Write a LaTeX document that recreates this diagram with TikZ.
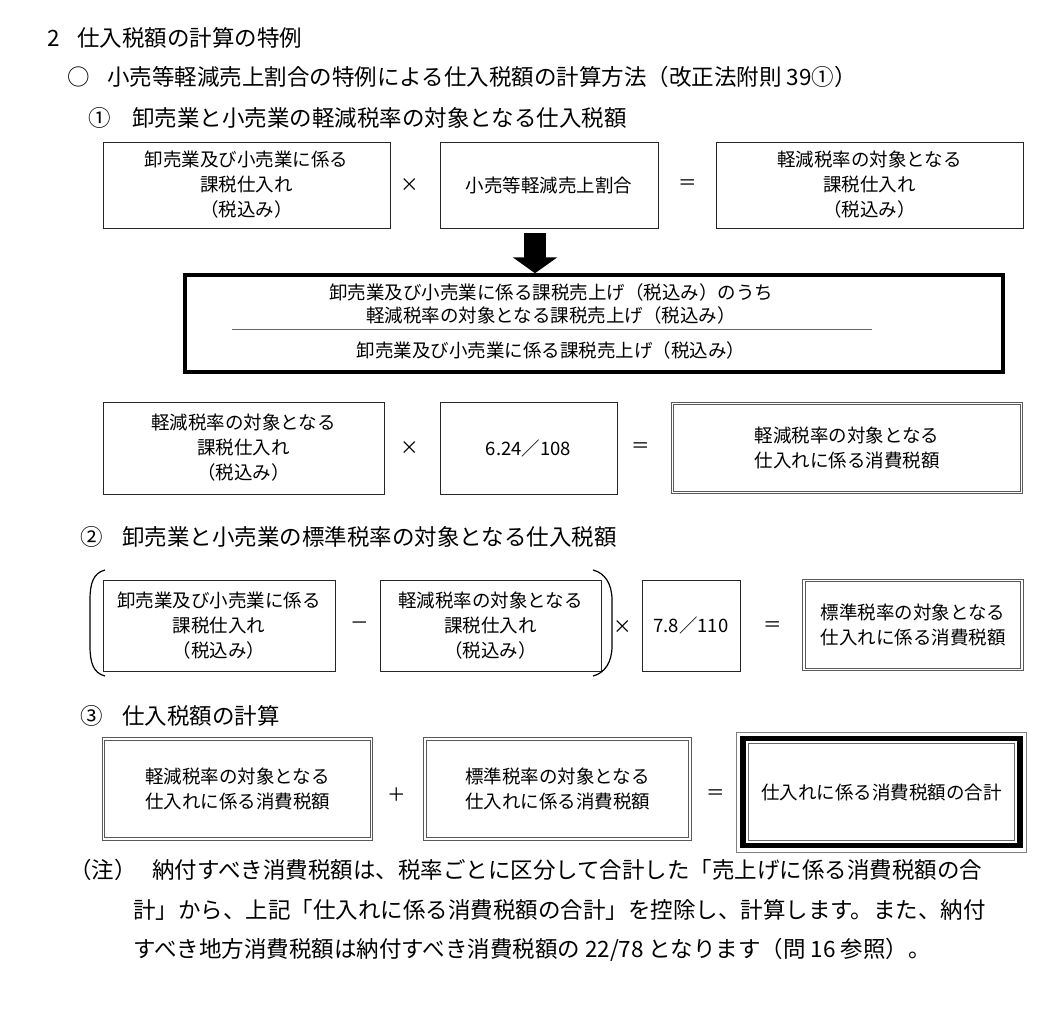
\documentclass[tikz,border=0pt]{standalone}
\usepackage{fontspec}
\setmainfont{Noto Sans CJK JP}
\usetikzlibrary{arrows.meta}
\XeTeXlinebreaklocale "ja"
\XeTeXlinebreakskip=0pt plus 3pt
\newcommand{\hdfont}{\fontsize{22.5}{26}\selectfont}
\newcommand{\bxfont}{\fontsize{18.5}{25}\selectfont}
\newcommand{\frfont}{\fontsize{18.5}{23}\selectfont}

\begin{document}
\begin{tikzpicture}[x=1pt,y=-1pt]
% Estilos
\tikzset{
  head/.style={anchor=west, inner sep=0pt, font=\hdfont},
  box/.style={rectangle, draw=black!85, line width=0.9pt, align=center, inner sep=0pt, font=\bxfont},
  dbox/.style={box, draw=black!65, double=white, double distance=1.4pt, line width=1pt},
  tbox/.style={box, draw=black, line width=5.5pt},
  fracbox/.style={rectangle, draw=black, line width=3.5pt, inner sep=0pt},
  op/.style={inner sep=0pt, font=\bxfont},
  bigarrow/.style={line width=22pt, -{Triangle[width=44pt,length=16pt]}}
}
\useasboundingbox (0,0) rectangle (1043,1023);

% Titulos
\node[head] (sec_num) at (47,38) {2};
\node[head] (sec_title) at (77,38) {仕入税額の計算の特例};
\node[head] (method_mark) at (67,77) {○};
\node[head] (method_title) at (107,77) {小売等軽減売上割合の特例による仕入税額の計算方法（改正法附則 39①）};
\node[head] (step1_mark) at (88,118) {①};
\node[head] (step1_title) at (132,118) {卸売業と小売業の軽減税率の対象となる仕入税額};

% Linha 1
\node[box, minimum width=287pt, minimum height=86pt] (whole_box) at (246.5,185) {卸売業及び小売業に係る\\課税仕入れ\\（税込み）};
\node[op] (times1) at (410,185) {×};
\node[box, minimum width=218pt, minimum height=86pt] (ratio_box) at (549,185) {小売等軽減売上割合};
\node[op] (eq1) at (688,185) {＝};
\node[box, minimum width=307pt, minimum height=86pt] (reduced_box) at (869.5,185) {軽減税率の対象となる\\課税仕入れ\\（税込み）};

% Fracao
\node[fracbox, minimum width=818pt, minimum height=97pt] (frac_box) at (594,323.5) {};
\node[op, align=center, font=\frfont] (frac_num) at (551,304) {卸売業及び小売業に係る課税売上げ（税込み）のうち\\軽減税率の対象となる課税売上げ（税込み）};
\node[op, font=\frfont] (frac_den) at (551,350) {卸売業及び小売業に係る課税売上げ（税込み）};
\draw[black!60, line width=0.8pt] (232,329) -- (872,329);
\draw[bigarrow, shorten <=5pt] ([xshift=-14pt]ratio_box.south) -- ([xshift=-14pt]ratio_box.south |- frac_box.north);

% Linha 2
\node[box, minimum width=281pt, minimum height=92pt] (reduced2_box) at (243.5,448) {軽減税率の対象となる\\課税仕入れ\\（税込み）};
\node[op] (times2) at (410,448) {×};
\node[box, minimum width=177pt, minimum height=92pt] (rate1_box) at (528.5,448) {6.24／108};
\node[op] (eq2) at (641,448) {＝};
\node[dbox, minimum width=349pt, minimum height=89pt] (tax1_box) at (847,448) {軽減税率の対象となる\\仕入れに係る消費税額};

% Titulo 2
\node[head] (step2_mark) at (80,537) {②};
\node[head] (step2_title) at (122,537) {卸売業と小売業の標準税率の対象となる仕入税額};

% Linha 3
\draw[line width=1.2pt] (105,570) .. controls (93,573) and (90,584) .. (90,600) -- (90,646) .. controls (90,662) and (93,673) .. (105,676);
\node[box, minimum width=232pt, minimum height=91pt] (whole2_box) at (219,625.5) {卸売業及び小売業に係る\\課税仕入れ\\（税込み）};
\node[op] (minus) at (360,626) {－};
\node[box, minimum width=221pt, minimum height=91pt] (reduced3_box) at (490.5,625.5) {軽減税率の対象となる\\課税仕入れ\\（税込み）};
\draw[line width=1.2pt] (593,570) .. controls (605,573) and (612,584) .. (612,600) -- (612,646) .. controls (612,662) and (605,673) .. (593,676);
\node[op] (times3) at (623,627) {×};
\node[box, minimum width=98pt, minimum height=91pt] (rate2_box) at (691,625.5) {7.8／110};
\node[op] (eq3) at (773,627) {＝};
\node[dbox, minimum width=218pt, minimum height=89pt] (tax2_box) at (913,625) {標準税率の対象となる\\仕入れに係る消費税額};

% Titulo 3
\node[head] (step3_mark) at (80,716) {③};
\node[head] (step3_title) at (122,716) {仕入税額の計算};

% Linha 4
\node[dbox, minimum width=268pt, minimum height=100pt] (tax3_box) at (237.5,789) {軽減税率の対象となる\\仕入れに係る消費税額};
\node[op] (plus) at (397,795) {＋};
\node[dbox, minimum width=265pt, minimum height=100pt] (tax4_box) at (557.5,789) {標準税率の対象となる\\仕入れに係る消費税額};
\node[op] (eq4) at (716,795) {＝};
\node[tbox, minimum width=277pt, minimum height=107pt] (total_box) at (881.5,792) {仕入れに係る消費税額の合計};
\draw[black!60, line width=0.8pt] ([shift={(8pt,-8pt)}]total_box.north west) rectangle ([shift={(-8pt,8pt)}]total_box.south east);
\draw[black!50, line width=0.6pt] ([shift={(-3.6pt,3.6pt)}]total_box.north west) rectangle ([shift={(3.6pt,-3.6pt)}]total_box.south east);

% Nota
\node[head] (note_mark) at (69,870) {（注）};
\node[head] (note1) at (152,870) {納付すべき消費税額は、税率ごとに区分して合計した「売上げに係る消費税額の合};
\node[head] (note2) at (133,910) {\makebox[852pt][s]{計」から、上記「仕入れに係る消費税額の合計」を控除し、計算します。また、納付}};
\node[head] (note3) at (133,950) {すべき地方消費税額は納付すべき消費税額の 22/78 となります（問 16 参照）。};

\end{tikzpicture}
\end{document}
